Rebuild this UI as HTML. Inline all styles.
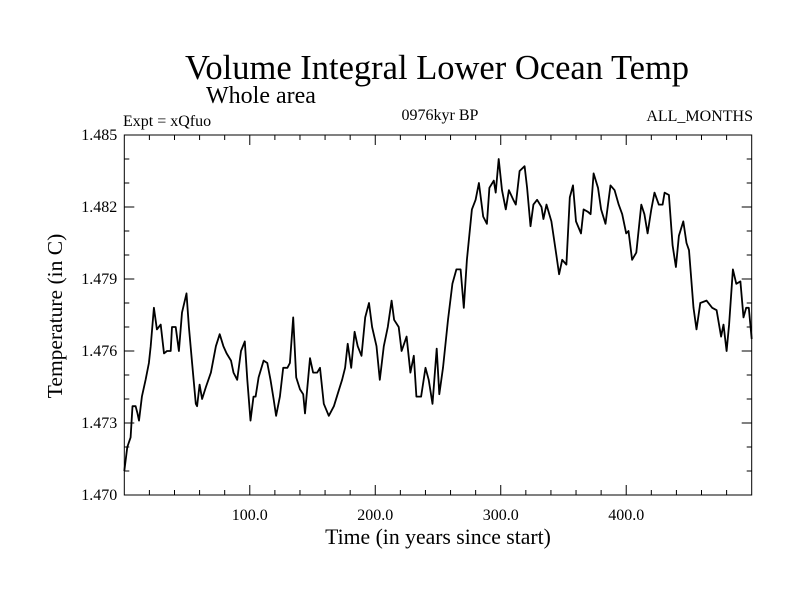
<!DOCTYPE html>
<html><head><meta charset="utf-8"><style>
html,body{margin:0;padding:0;background:#fff;}
svg text{font-family:"Liberation Serif",serif;fill:#000;}
</style></head><body>
<svg id="chart" width="800" height="600" xmlns="http://www.w3.org/2000/svg">
<text x="437" y="79" font-size="34.5" text-anchor="middle">Volume Integral Lower Ocean Temp</text>
<text x="206" y="103" font-size="24">Whole area</text>
<text x="123" y="126" font-size="16">Expt = xQfuo</text>
<text x="440" y="120" font-size="16" text-anchor="middle">0976kyr BP</text>
<text x="753" y="121" font-size="16" text-anchor="end">ALL_MONTHS</text>
<text x="438" y="544" font-size="21.7" text-anchor="middle">Time (in years since start)</text>
<text transform="translate(62,316) rotate(-90)" font-size="21.5" text-anchor="middle">Temperature (in C)</text>
<g id="axes"></g>
<path id="line" fill="none" stroke="#000" stroke-width="1.8" stroke-linejoin="round"></path>
<rect x="124.3" y="135" width="627.4" height="360" fill="none" stroke="#000" stroke-width="1"></rect>
</svg>
<script>
const years=[0,2.4,5,6.5,9,10.5,11.7,14,17,19.6,21,23.6,26,29,31.6,34,37,38,41,43.5,46,49.6,51.5,54,57,58,60,62,65,69,73,76,79,81.5,85,87,90,93,96,98,100.6,103,104.6,107,111,114,116.5,119,121,124,126.6,130,132,134.6,137,140,142.6,144,148,150.5,153.7,156,159,163,167,170,173.6,176,178,180.8,183.5,186,189,192,195,197.5,201,203.6,206.8,210,213,215,218.7,221,225,228,230.7,232.8,236.5,240,242.6,245.6,249,251,254,258,261.5,264.7,268,270.6,273,277,280,282.6,286,289,291,294.5,296,298.4,301,304,306.5,310,312,315,319,321,323.7,326,329,332.5,334,336.5,340.4,344,346.5,349,352.3,355,357.6,360,364,366,369.5,371.6,374,377.5,380,383.5,387.5,390.7,394,396.8,400,401.8,404.7,408,412,414.5,417,420,422.5,426,429,430.6,434,437,439.6,442,445.5,448,450,453.6,456,459,464,468.5,472,475.6,477.5,480,482,485,487.7,491,493.5,495.6,497.7,500];
const temps=[1.4710,1.4720,1.4724,1.4737,1.4737,1.4734,1.4731,1.4741,1.4748,1.4755,1.4762,1.4778,1.4769,1.4771,1.4759,1.4760,1.4760,1.4770,1.4770,1.4760,1.4776,1.4784,1.4770,1.4755,1.4738,1.4737,1.4746,1.4740,1.4745,1.4751,1.4762,1.4767,1.4762,1.4759,1.4756,1.4751,1.4748,1.4760,1.4764,1.4748,1.4731,1.4741,1.4741,1.4749,1.4756,1.4755,1.4748,1.4740,1.4733,1.4741,1.4753,1.4753,1.4755,1.4774,1.4749,1.4744,1.4742,1.4734,1.4757,1.4751,1.4751,1.4753,1.4738,1.4733,1.4737,1.4742,1.4748,1.4753,1.4763,1.4753,1.4768,1.4762,1.4758,1.4774,1.4780,1.4770,1.4762,1.4748,1.4762,1.4770,1.4781,1.4773,1.4770,1.4760,1.4766,1.4751,1.4758,1.4741,1.4741,1.4753,1.4748,1.4738,1.4761,1.4742,1.4753,1.4773,1.4788,1.4794,1.4794,1.4778,1.4798,1.4819,1.4823,1.4830,1.4816,1.4813,1.4828,1.4831,1.4826,1.4840,1.4827,1.4819,1.4827,1.4823,1.4821,1.4835,1.4837,1.4828,1.4812,1.4821,1.4823,1.4820,1.4815,1.4821,1.4814,1.4801,1.4792,1.4798,1.4796,1.4824,1.4829,1.4814,1.4809,1.4819,1.4818,1.4817,1.4834,1.4828,1.4819,1.4813,1.4829,1.4827,1.4821,1.4817,1.4809,1.4810,1.4798,1.4801,1.4821,1.4817,1.4809,1.4819,1.4826,1.4821,1.4821,1.4826,1.4825,1.4804,1.4795,1.4808,1.4814,1.4805,1.4802,1.4778,1.4769,1.4780,1.4781,1.4778,1.4777,1.4766,1.4771,1.4760,1.4771,1.4794,1.4788,1.4789,1.4774,1.4778,1.4778,1.4765];
const xTicks=[100,200,300,400];
const xTickLabels=["100.0","200.0","300.0","400.0"];
const yTicks=[1.470,1.473,1.476,1.479,1.482,1.485];
const yTickLabels=["1.470","1.473","1.476","1.479","1.482","1.485"];
const X0=124.3,X1=751.7,Y0=495,Y1=135;
function xs(v){return X0+(v-0)/(500-0)*(X1-X0);}
function ys(v){return Y0-(v-1.470)/(1.485-1.470)*(Y0-Y1);}
const NS="http://www.w3.org/2000/svg";
const axes=document.getElementById('axes');
function ln(x1,y1,x2,y2,name){const l=document.createElementNS(NS,'line');l.setAttribute('x1',x1);l.setAttribute('y1',y1);l.setAttribute('x2',x2);l.setAttribute('y2',y2);l.setAttribute('stroke','#000');l.setAttribute('stroke-width','1');


axes.appendChild(l);}
for(let v=20;v<500;v+=20){const x=xs(v);const big=v%100===0;ln(x,Y0,x,Y0-(big?10:5),'x-tick');ln(x,Y1,x,Y1+(big?10:5),'x-tick-top');}
for(let i=1;i<15;i++){const v=1.470+i*0.001;const y=ys(v);const big=i%3===0;ln(X0,y,X0+(big?10:5),y,'y-tick');ln(X1,y,X1-(big?10:5),y,'y-tick-right');}
xTicks.forEach((v,i)=>{const t=document.createElementNS(NS,'text');t.setAttribute('x',xs(v));t.setAttribute('y',Y0+25);t.setAttribute('font-size','16');t.setAttribute('text-anchor','middle');t.textContent=xTickLabels[i];


axes.appendChild(t);});
yTicks.forEach((v,i)=>{const t=document.createElementNS(NS,'text');t.setAttribute('x',X0-7);t.setAttribute('y',ys(v)+5);t.setAttribute('font-size','16');t.setAttribute('text-anchor','end');t.textContent=yTickLabels[i];


axes.appendChild(t);});
let d='';years.forEach((v,i)=>{d+=(i?'L':'M')+xs(v).toFixed(1)+','+ys(temps[i]).toFixed(1);});
document.getElementById('line').setAttribute('d',d);
</script>
</body></html>
